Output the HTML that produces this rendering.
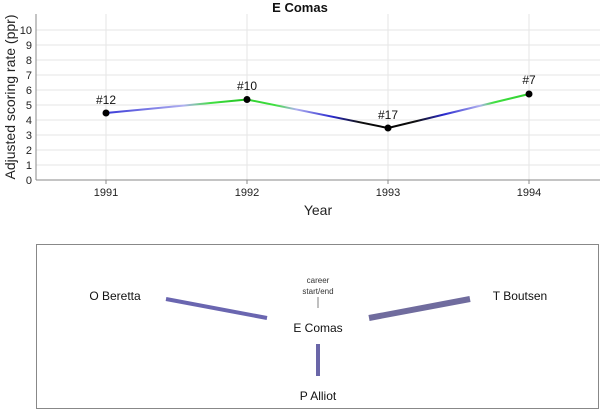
<!DOCTYPE html>
<html><head><meta charset="utf-8"><style>
body{margin:0;background:#fff;}
svg{display:block;font-family:"Liberation Sans",sans-serif;}
</style></head><body>
<svg width="600" height="409" viewBox="0 0 600 409">
<defs>
<linearGradient id="g1" gradientUnits="userSpaceOnUse" x1="106" y1="0" x2="247" y2="0">
<stop offset="0" stop-color="#3a3ad8"/><stop offset="0.55" stop-color="#b0b0f0"/><stop offset="0.75" stop-color="#40e040"/><stop offset="1" stop-color="#20c020"/></linearGradient>
<linearGradient id="g2" gradientUnits="userSpaceOnUse" x1="247" y1="0" x2="388" y2="0">
<stop offset="0" stop-color="#30d030"/><stop offset="0.2" stop-color="#40e040"/><stop offset="0.35" stop-color="#b0b0f0"/><stop offset="0.6" stop-color="#2a2ad0"/><stop offset="0.8" stop-color="#111"/><stop offset="1" stop-color="#000"/></linearGradient>
<linearGradient id="g3" gradientUnits="userSpaceOnUse" x1="388" y1="0" x2="529" y2="0">
<stop offset="0" stop-color="#000"/><stop offset="0.2" stop-color="#111"/><stop offset="0.4" stop-color="#2a2ad0"/><stop offset="0.65" stop-color="#b0b0f0"/><stop offset="0.75" stop-color="#40e040"/><stop offset="1" stop-color="#30d030"/></linearGradient>
</defs>
<g stroke="#e6e6e6" stroke-width="1">
<line x1="36" y1="165" x2="600" y2="165"/><line x1="36" y1="150" x2="600" y2="150"/>
<line x1="36" y1="135" x2="600" y2="135"/><line x1="36" y1="120" x2="600" y2="120"/>
<line x1="36" y1="105" x2="600" y2="105"/><line x1="36" y1="90" x2="600" y2="90"/>
<line x1="36" y1="75" x2="600" y2="75"/><line x1="36" y1="60" x2="600" y2="60"/>
<line x1="36" y1="45" x2="600" y2="45"/><line x1="36" y1="30" x2="600" y2="30"/>
<line x1="106" y1="14" x2="106" y2="180"/><line x1="247" y1="14" x2="247" y2="180"/>
<line x1="388" y1="14" x2="388" y2="180"/><line x1="529" y1="14" x2="529" y2="180"/>
</g>
<line x1="36" y1="14" x2="36" y2="180" stroke="#888"/>
<line x1="36" y1="180" x2="600" y2="180" stroke="#888"/>
<g stroke="#888"><line x1="106" y1="180" x2="106" y2="184"/><line x1="247" y1="180" x2="247" y2="184"/><line x1="388" y1="180" x2="388" y2="184"/><line x1="529" y1="180" x2="529" y2="184"/></g>
<g font-size="11" fill="#222" text-anchor="end">
<text x="32" y="184">0</text><text x="32" y="169">1</text><text x="32" y="154">2</text><text x="32" y="139">3</text><text x="32" y="124">4</text><text x="32" y="109">5</text><text x="32" y="94">6</text><text x="32" y="79">7</text><text x="32" y="64">8</text><text x="32" y="49">9</text><text x="32" y="34">10</text>
</g>
<g font-size="11" fill="#222" text-anchor="middle">
<text x="106" y="196">1991</text><text x="247" y="196">1992</text><text x="388" y="196">1993</text><text x="529" y="196">1994</text>
</g>
<text x="318" y="215" font-size="14" fill="#222" text-anchor="middle">Year</text>
<text transform="translate(15,97) rotate(-90)" font-size="14" fill="#222" text-anchor="middle">Adjusted scoring rate (ppr)</text>
<text x="300" y="12" font-size="13" font-weight="bold" fill="#111" text-anchor="middle">E Comas</text>
<line x1="106" y1="113" x2="247" y2="99.5" stroke="url(#g1)" stroke-width="2"/>
<line x1="247" y1="99.5" x2="388" y2="128" stroke="url(#g2)" stroke-width="2"/>
<line x1="388" y1="128" x2="529" y2="94" stroke="url(#g3)" stroke-width="2"/>
<g fill="#000"><circle cx="106" cy="113" r="3.5"/><circle cx="247" cy="99.5" r="3.5"/><circle cx="388" cy="128" r="3.5"/><circle cx="529" cy="94" r="3.5"/></g>
<g font-size="12" fill="#111" text-anchor="middle">
<text x="106" y="104">#12</text><text x="247" y="90">#10</text><text x="388" y="119">#17</text><text x="529" y="84">#7</text>
</g>
<rect x="36.5" y="244.5" width="562" height="164" fill="none" stroke="#888"/>
<line x1="166" y1="299" x2="267" y2="318" stroke="#6a66b0" stroke-width="4"/>
<line x1="369" y1="318" x2="470" y2="299" stroke="#706c9e" stroke-width="6"/>
<line x1="318" y1="344" x2="318" y2="376" stroke="#6a66a8" stroke-width="4"/>
<line x1="318" y1="297" x2="318" y2="308" stroke="#aaa" stroke-width="1.5"/>
<g font-size="12" fill="#111" text-anchor="middle">
<text x="115" y="300">O Beretta</text><text x="520" y="300">T Boutsen</text>
<text x="318" y="332">E Comas</text><text x="318" y="400">P Alliot</text>
</g>
<g font-size="8" fill="#333" text-anchor="middle"><text x="318" y="283">career</text><text x="318" y="294">start/end</text></g>
</svg>
</body></html>
